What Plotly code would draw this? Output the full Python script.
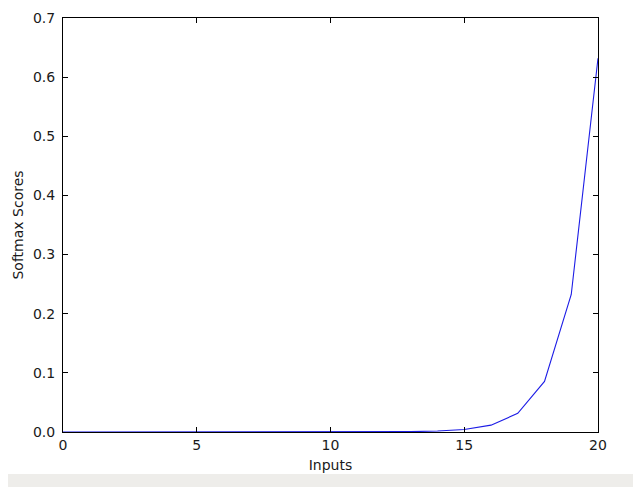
import plotly.graph_objects as go

inputs = list(range(21))
softmax_scores = [1.3e-9, 3.5e-9, 9.6e-9, 2.6e-8, 7.1e-8, 1.9e-7, 5.2e-7, 1.4e-6,
                  3.9e-6, 1.06e-5, 2.9e-5, 7.8e-5, 2.1e-4, 5.8e-4, 0.0016, 0.0043,
                  0.0116, 0.0315, 0.0855, 0.2325, 0.632]
x_ticks = [0, 5, 10, 15, 20]
y_ticks = [0.0, 0.1, 0.2, 0.3, 0.4, 0.5, 0.6, 0.7]

font = dict(family="DejaVu Sans", size=14, color="#1a1a1a")

fig = go.Figure(go.Scatter(x=inputs, y=softmax_scores, mode="lines",
                           line=dict(color="#1c1ce6", width=1.1), showlegend=False,
                           cliponaxis=False))

axis_common = dict(showgrid=False, zeroline=False, showline=True, linecolor="#000000",
                   linewidth=1, mirror="allticks", ticks="inside", ticklen=5,
                   tickcolor="#000000", tickwidth=1, tickfont=font, automargin=False)

fig.update_layout(
    width=633, height=479,
    margin=dict(l=55, r=43, t=10, b=55),
    paper_bgcolor="white", plot_bgcolor="white",
    xaxis=dict(range=[0, 20], tickvals=x_ticks, ticktext=[str(v) for v in x_ticks],
               title=dict(text="Inputs", font=font, standoff=8),
               **axis_common),
    yaxis=dict(range=[0, 0.7], tickvals=y_ticks, ticktext=[f"{v:.1f}" for v in y_ticks],
               ticklabelstandoff=4,
               title=dict(text="Softmax Scores", font=font, standoff=6),
               **axis_common),
    shapes=[dict(type="rect", xref="paper", yref="paper", x0=-0.2, x1=1.2,
                 y0=-0.1329, y1=-0.1014, fillcolor="#eeedea", line=dict(width=0), layer="below")],
)

fig.write_html("out.html")
